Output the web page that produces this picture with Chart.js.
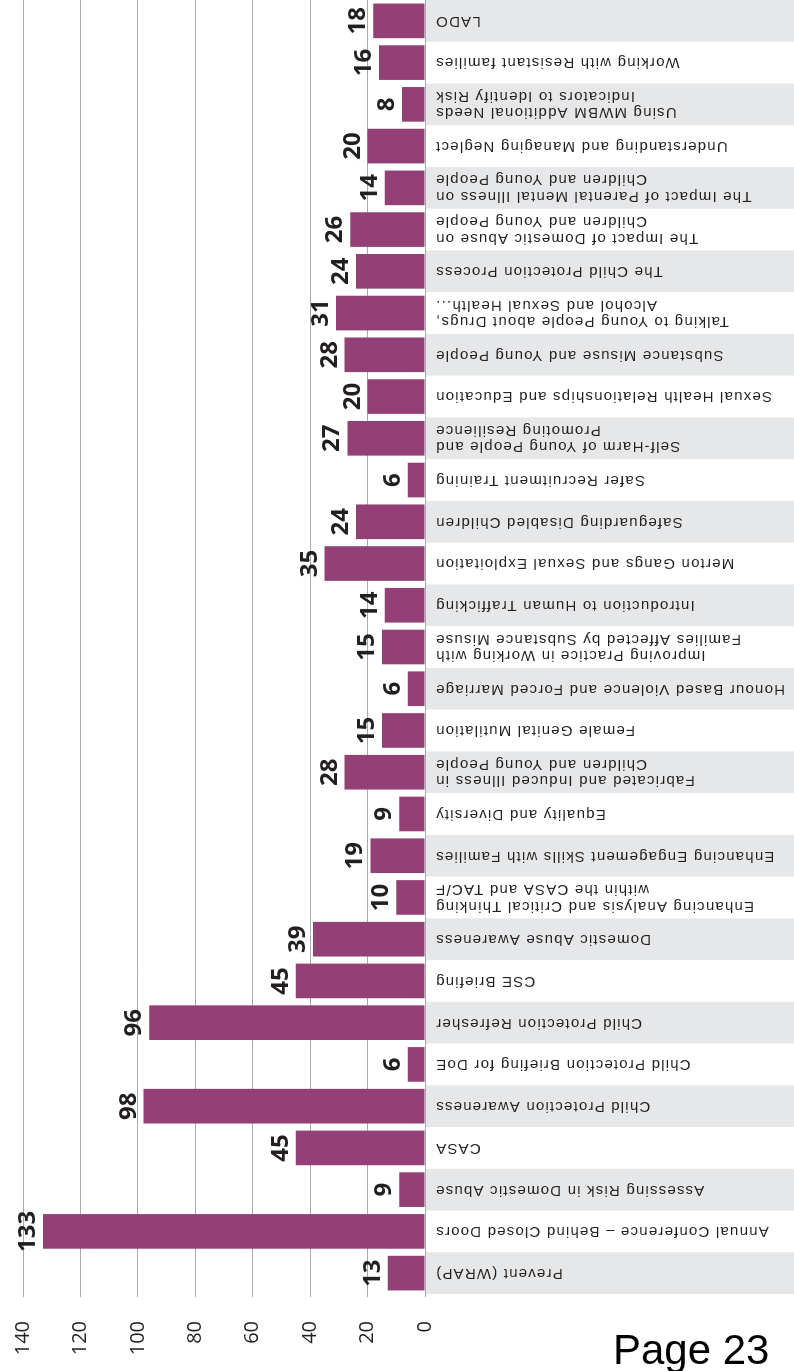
<!DOCTYPE html>
<html>
<head>
<meta charset="utf-8">
<script src="https://cdn.jsdelivr.net/npm/chart.js@4"></script>
<style>
  html, body { margin: 0; padding: 0; background: #fff; overflow: hidden; }
  body { width: 794px; height: 1371px; position: relative; }
  #wrap {
    position: absolute; left: 0; top: 0;
    width: 1371px; height: 794px;
    transform-origin: 0 0;
    transform: translateY(1371px) rotate(-90deg);
  }
  #page {
    position: absolute; left: 613px; top: 1329px;
    font-family: 'Liberation Sans', Arial, sans-serif;
    font-size: 42px; line-height: 42px; color: #000;
    white-space: nowrap;
  }
</style>
</head>
<body>
<div id="wrap"><canvas id="grafico" width="1371" height="794"></canvas></div>
<div id="page">Page 23</div>
<script>
// CATEGORIAS (CURSOS)
const cursos = [
    'Prevent (WRAP)',
    'Annual Conference – Behind Closed Doors',
    'Assessing Risk in Domestic Abuse',
    'CASA',
    'Child Protection Awareness',
    'Child Protection Briefing for DoE',
    'Child Protection Refresher',
    'CSE Briefing',
    'Domestic Abuse Awareness',
    ['Enhancing Analysis and Critical Thinking', 'within the CASA and TAC/F'],
    'Enhancing Engagement Skills with Families',
    'Equality and Diversity',
    ['Fabricated and Induced Illness in', 'Children and Young People'],
    'Female Genital Mutilation',
    'Honour Based Violence and Forced Marriage',
    ['Improving Practice in Working with', 'Families Affected by Substance Misuse'],
    'Introduction to Human Trafficking',
    'Merton Gangs and Sexual Exploitation',
    'Safeguarding Disabled Children',
    'Safer Recruitment Training',
    ['Self-Harm of Young People and', 'Promoting Resilience'],
    'Sexual Health Relationships and Education',
    'Substance Misuse and Young People',
    ['Talking to Young People about Drugs,', 'Alcohol and Sexual Health...'],
    'The Child Protection Process',
    ['The Impact of Domestic Abuse on', 'Children and Young People'],
    ['The Impact of Parental Mental Illness on', 'Children and Young People'],
    'Understanding and Managing Neglect',
    ['Using MWBM Additional Needs', 'Indicators to Identify Risk'],
    'Working with Resistant families',
    'LADO'
];

// PARTICIPANTES POR CURSO
const participantes = [13, 133, 9, 45, 98, 6, 96, 45, 39, 10, 19, 9, 28, 15, 6, 15, 14, 35, 24, 6, 27, 20, 28, 31, 24, 26, 14, 20, 8, 16, 18];

// MARCAS DO EIXO DE VALORES
const marcas = [0, 20, 40, 60, 80, 100, 120, 140];

const corBarra = '#924075';
const corFaixa = '#e6e7e8';
const corTexto = '#231f20';

// FAIXAS CINZAS E RÓTULOS DAS CATEGORIAS (TEXTO INVERTIDO)
const rotulosCategorias = {
    id: 'rotulosCategorias',
    beforeDraw(chart) {
        const { ctx, scales: { x }, chartArea } = chart;
        const passo = x.getPixelForValue(1) - x.getPixelForValue(0);
        ctx.save();
        ctx.fillStyle = corFaixa;
        cursos.forEach((_, i) => {
            if (i % 2 !== 0) return;
            const cx = x.getPixelForValue(i);
            ctx.fillRect(cx - passo / 2, chartArea.bottom + 1, passo, chart.height - chartArea.bottom);
        });
        ctx.restore();
    },
    afterDraw(chart) {
        const { ctx, scales: { x }, chartArea } = chart;
        const alturaLinha = 16.5;
        ctx.save();
        ctx.fillStyle = corTexto;
        ctx.font = '15px "Liberation Sans", Arial, sans-serif';
        if ('letterSpacing' in ctx) ctx.letterSpacing = '1.2px';
        ctx.textAlign = 'right';
        ctx.textBaseline = 'middle';
        cursos.forEach((rotulo, i) => {
            const linhas = Array.isArray(rotulo) ? rotulo : [rotulo];
            ctx.save();
            ctx.translate(x.getPixelForValue(i), chartArea.bottom + 10);
            ctx.rotate(-Math.PI / 2);
            linhas.forEach((linha, k) => {
                const dy = (k - (linhas.length - 1) / 2) * alturaLinha;
                ctx.fillText(linha, 0, dy);
            });
            ctx.restore();
        });
        ctx.restore();
    }
};

// VALORES ACIMA DAS BARRAS
const rotulosValores = {
    id: 'rotulosValores',
    afterDatasetsDraw(chart) {
        const { ctx } = chart;
        const meta = chart.getDatasetMeta(0);
        ctx.save();
        ctx.fillStyle = corTexto;
        ctx.font = 'bold 24px "Open Sans", sans-serif';
        ctx.textAlign = 'center';
        ctx.textBaseline = 'alphabetic';
        meta.data.forEach((barra, i) => {
            ctx.fillText(String(participantes[i]), barra.x, barra.y - 8);
        });
        ctx.restore();
    }
};

const ctx = document.getElementById('grafico');

const grafico = new Chart(ctx, {
    type: 'bar',
    data: {
        labels: cursos,
        datasets: [{
            label: 'Participants',
            data: participantes,
            backgroundColor: corBarra,
            borderWidth: 0,
            categoryPercentage: 1,
            barPercentage: 0.83
        }]
    },
    options: {
        responsive: false,
        animation: false,
        layout: { padding: { top: 23, left: 0, right: 0, bottom: 0 } },
        plugins: {
            legend: { display: false },
            tooltip: { enabled: false }
        },
        scales: {
            x: {
                grid: { display: false },
                border: { display: false },
                ticks: { display: false },
                afterFit: (escala) => {
                    escala.height = 369;
                    escala.paddingLeft = 0;
                    escala.paddingRight = 0;
                }
            },
            y: {
                min: 0,
                max: 140,
                afterBuildTicks: (escala) => { escala.ticks = marcas.map(v => ({ value: v })); },
                grid: { color: '#a7a9ac', lineWidth: 1, drawTicks: true, tickLength: 3 },
                border: { display: false },
                ticks: {
                    color: '#231f20',
                    padding: 24,
                    font: { family: '"Open Sans", sans-serif', size: 20, weight: '400' }
                },
                afterFit: (escala) => {
                    escala.width = 77;
                    escala.paddingTop = 0;
                    escala.paddingBottom = 0;
                }
            }
        }
    },
    plugins: [rotulosCategorias, rotulosValores]
});
</script>
</body>
</html>
